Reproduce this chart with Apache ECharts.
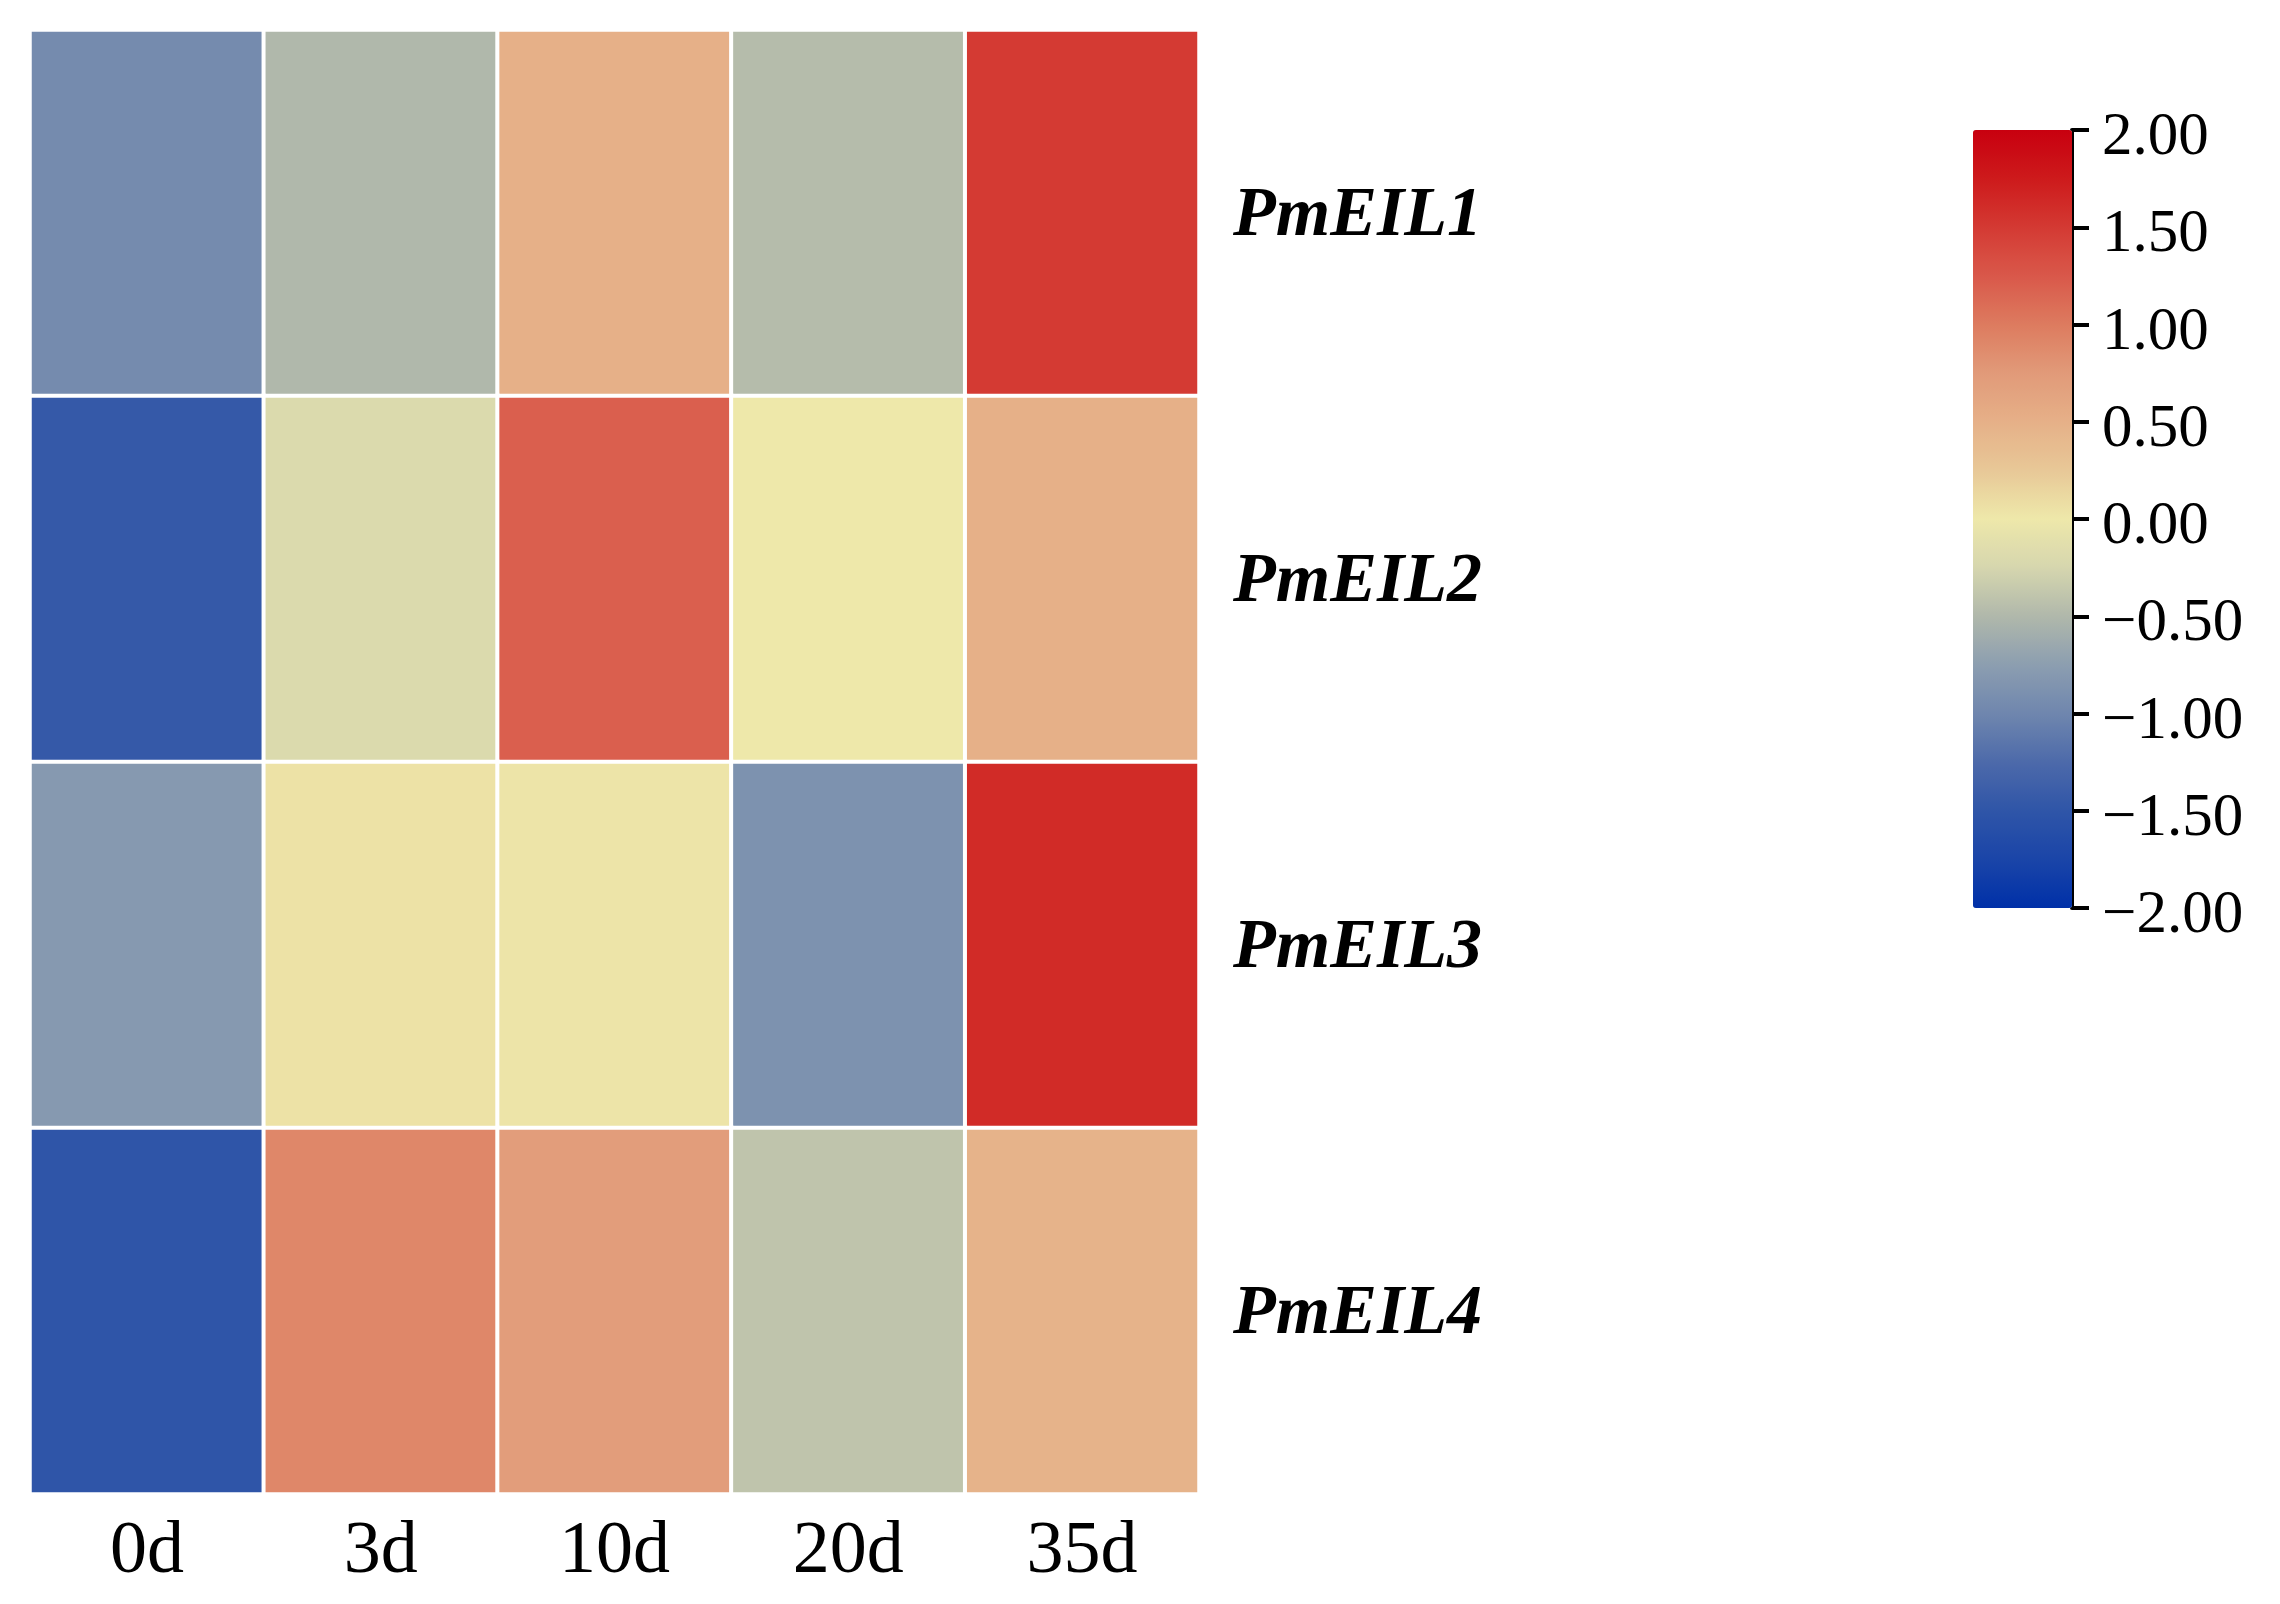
<!DOCTYPE html>
<html>
<head>
<meta charset="utf-8">
<script src="https://cdn.jsdelivr.net/npm/echarts@6/dist/echarts.min.js"></script>
<style>html,body{margin:0;padding:0;background:#fff;}#c{width:2280px;height:1604px;}</style>
</head>
<body>
<div id="c"></div>
<script>
const days = ['0d', '3d', '10d', '20d', '35d'];
const genes = ['PmEIL1', 'PmEIL2', 'PmEIL3', 'PmEIL4'];
const PmEIL1 = [-0.95, -0.5, 0.5, -0.47, 1.5];
const PmEIL2 = [-1.45, -0.2, 1.2, 0.0, 0.5];
const PmEIL3 = [-0.8, 0.05, 0.03, -0.88, 1.62];
const PmEIL4 = [-1.5, 0.9, 0.72, -0.4, 0.47];
const colorTicks = [-2, -1.5, -1, -0.5, 0, 0.5, 1, 1.5, 2];
const rampColors = ['#0030a8', '#1a45a8', '#2f55a8', '#4d6aaa', '#6f86ae', '#8c9eb0', '#b0b8ab', '#d6d6ae', '#eee8aa',
  '#e8c897', '#e6b088', '#e19a79', '#dd7b5f', '#d9584a', '#d43a33', '#cd1a1b', '#c8000f'];

const rows = [PmEIL1, PmEIL2, PmEIL3, PmEIL4];
const data = [];
rows.forEach((r, yi) => r.forEach((v, xi) => data.push([xi, yi, v])));

const serif = '"Liberation Serif", "Times New Roman", serif';
const chart = echarts.init(document.getElementById('c'), null, {renderer: 'canvas'});
chart.setOption({
  backgroundColor: '#fff',
  animation: false,
  grid: [
    {left: 30, top: 30, width: 1169, height: 1464},
    {left: 1973, top: 130, width: 99, height: 778}
  ],
  xAxis: [
    {type: 'category', data: days, gridIndex: 0, position: 'bottom',
      axisLine: {show: false}, axisTick: {show: false}, splitLine: {show: false},
      axisLabel: {fontFamily: serif, fontSize: 74, color: '#000', margin: 22}},
    {type: 'value', gridIndex: 1, show: false, min: 0, max: 1}
  ],
  yAxis: [
    {type: 'category', data: genes, gridIndex: 0, inverse: true, position: 'right',
      axisLine: {show: false}, axisTick: {show: false}, splitLine: {show: false},
      axisLabel: {margin: 34, formatter: v => '{g|' + v + '}',
        rich: {g: {fontFamily: serif, fontSize: 70, fontStyle: 'italic', fontWeight: 'bold', color: '#000', padding: [8, 0, 0, 0]}}}},
    {type: 'value', gridIndex: 1, position: 'right', min: -2, max: 2, interval: 0.5,
      axisLine: {show: true, onZero: false, lineStyle: {color: '#000', width: 4}},
      axisTick: {show: true, length: 17, lineStyle: {color: '#000', width: 4}},
      splitLine: {show: false},
      axisLabel: {margin: 30,
        formatter: v => '{t|' + v.toFixed(2).replace('-', '\u2212') + '}',
        rich: {t: {fontFamily: serif, fontSize: 61, color: '#000', padding: [16, 0, 0, 0]}}}}
  ],
  visualMap: {
    type: 'continuous', min: -2, max: 2, seriesIndex: 0, calculable: false,
    orient: 'vertical', left: 1973, top: 130, padding: 0,
    itemWidth: 99, itemHeight: 778, text: null,
    inRange: {color: rampColors}
  },
  series: [
    {type: 'heatmap', xAxisIndex: 0, yAxisIndex: 0, data: data,
      itemStyle: {borderColor: '#fff', borderWidth: 4},
      emphasis: {disabled: true}},
    {type: 'scatter', xAxisIndex: 1, yAxisIndex: 1, data: [], silent: true}
  ]
});
</script>
</body>
</html>
